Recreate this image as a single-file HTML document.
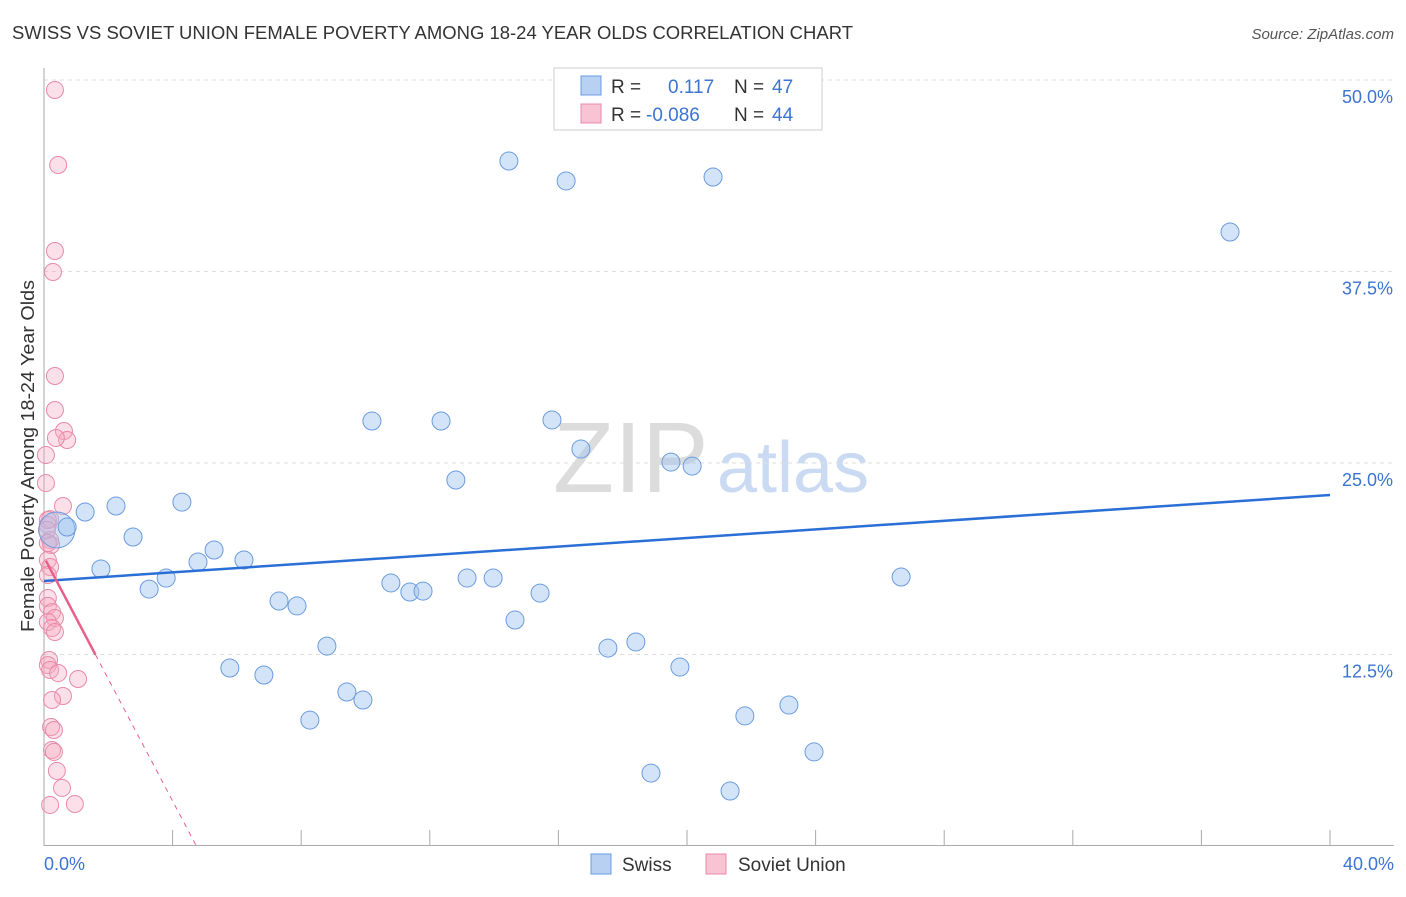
<!DOCTYPE html>
<html><head><meta charset="utf-8"><style>
body{margin:0;background:#fff;font-family:"Liberation Sans",sans-serif;}
svg text{font-family:"Liberation Sans",sans-serif;}
</style></head><body>
<svg id="c" width="1406" height="892" xmlns="http://www.w3.org/2000/svg">
<text x="12" y="39" font-size="18" fill="#333" textLength="841" lengthAdjust="spacingAndGlyphs">SWISS VS SOVIET UNION FEMALE POVERTY AMONG 18-24 YEAR OLDS CORRELATION CHART</text>
<text x="1394" y="39" font-size="15" fill="#555" text-anchor="end" font-style="italic">Source: ZipAtlas.com</text>
<text x="553" y="492" font-size="100" fill="#dcdcdc" font-family="Liberation Serif">ZIP</text>
<text x="717" y="492" font-size="72" fill="#c9daf2">atlas</text>
<text transform="translate(34,456) rotate(-90)" font-size="18" fill="#333" text-anchor="middle" textLength="352" lengthAdjust="spacingAndGlyphs">Female Poverty Among 18-24 Year Olds</text>
<g id="grid"></g><g id="axes"></g><g id="pts"></g><g id="lines"></g>
<g>
<rect x="554" y="68" width="268" height="62" fill="#fff" stroke="#ccc"/>
<rect x="581" y="76" width="20" height="19" fill="#b8d1f3" stroke="#6a9be0"/>
<text x="611" y="93" font-size="19" fill="#333">R =</text><text x="668" y="93" font-size="19" fill="#3b74d1">0.117</text>
<text x="734" y="93" font-size="19" fill="#333">N =</text><text x="772" y="93" font-size="19" fill="#3b74d1">47</text>
<rect x="581" y="104" width="20" height="19" fill="#f8c4d4" stroke="#e88aa8"/>
<text x="611" y="121" font-size="19" fill="#333">R =</text><text x="646" y="121" font-size="19" fill="#3b74d1">-0.086</text>
<text x="734" y="121" font-size="19" fill="#333">N =</text><text x="772" y="121" font-size="19" fill="#3b74d1">44</text>
</g>
<g><rect x="591" y="854" width="20" height="20" fill="#b8d1f3" stroke="#6a9be0"/><text x="622" y="871" font-size="19" fill="#333">Swiss</text></g>
<g><rect x="706" y="854" width="20" height="20" fill="#f8c4d4" stroke="#e88aa8"/><text x="738" y="871" font-size="19" fill="#333">Soviet Union</text></g>
</svg>
<script>
const yTicks=[12.5,25,37.5,50];
const yTickLabels=["12.5%","25.0%","37.5%","50.0%"];
const xTickLabels=["0.0%","40.0%"];
const swissX=[0.40,0.72,1.28,2.24,1.77,2.77,3.27,3.80,4.29,4.79,5.29,5.78,6.22,6.84,7.31,7.87,8.27,8.80,9.42,9.92,10.20,10.79,11.38,11.79,12.35,12.81,13.16,13.97,14.46,14.65,15.43,15.80,16.24,16.70,17.54,18.41,18.88,19.50,19.78,20.16,20.81,21.34,21.80,23.17,23.95,26.66,36.89];
const swissY=[20.63,20.82,21.80,22.19,18.08,20.17,16.77,17.49,22.45,18.54,19.32,11.62,18.67,11.16,15.99,15.67,8.22,13.05,10.05,9.53,27.74,17.17,16.58,16.64,27.74,23.89,17.49,17.49,44.71,14.75,16.51,27.81,43.41,25.91,12.92,13.32,4.76,25.06,11.68,24.80,43.67,3.59,8.49,9.20,6.14,17.56,40.08];
const sovX=[0.34,0.44,0.34,0.28,0.34,0.34,0.62,0.72,0.37,0.06,0.06,0.59,0.19,0.12,0.19,0.22,0.12,0.19,0.12,0.12,0.12,0.25,0.34,0.12,0.25,0.34,0.16,0.12,0.19,0.44,1.06,0.59,0.25,0.22,0.31,0.25,0.31,0.40,0.56,0.96,0.19,0.12,0.09,0.12];
const sovY=[49.35,44.45,38.84,37.47,30.68,28.46,27.09,26.50,26.63,25.52,23.69,22.19,21.34,20.95,19.97,19.65,18.67,18.21,17.69,16.19,15.67,15.27,14.88,14.62,14.23,13.97,12.14,11.81,11.49,11.29,10.90,9.79,9.53,7.77,7.57,6.27,6.14,4.90,3.79,2.74,2.68,21.28,20.63,19.78];
const swissTrend=[17.30,22.91];
const sovTrend={intercept:18.86,slope:-3.98,solidEnd:1.6,dashEnd:4.74};
const NS="http://www.w3.org/2000/svg";
const X=v=>44+v/40*1286, Y=v=>846-v/50*766;
function mk(t,a,p){const e=document.createElementNS(NS,t);for(const k in a)e.setAttribute(k,a[k]);p.appendChild(e);return e;}
const grid=document.getElementById('grid'),axes=document.getElementById('axes'),pts=document.getElementById('pts'),lines=document.getElementById('lines');
yTicks.forEach((t,i)=>{
 const l=mk('line',{x1:44,x2:1394,y1:Y(t),y2:Y(t),stroke:'#ddd','stroke-dasharray':'4,4'},grid);
 
 
 const tx=mk('text',{x:1393,y:Y(t)+23,'font-size':18,fill:'#3b74d1','text-anchor':'end'},grid);tx.textContent=yTickLabels[i];
 
 
});
mk('line',{x1:44,x2:44,y1:68,y2:846,stroke:'#aaa'},axes);
mk('line',{x1:44,x2:1394,y1:845.5,y2:845.5,stroke:'#aaa'},axes);
for(let i=0;i<=10;i++){mk('line',{x1:X(i*4),x2:X(i*4),y1:830,y2:846,stroke:'#aaa'},axes);}
let t0=mk('text',{x:44,y:870,'font-size':18,fill:'#3b74d1'},axes);t0.textContent=xTickLabels[0];


let t1=mk('text',{x:1394,y:870,'font-size':18,fill:'#3b74d1','text-anchor':'end'},axes);t1.textContent=xTickLabels[1];


sovX.forEach((v,i)=>{const c=mk('circle',{cx:X(v),cy:Y(sovY[i]),r:8.5,fill:'rgba(245,165,192,0.35)',stroke:'#e88aa8','stroke-width':1},pts);
 
 });
swissX.forEach((v,i)=>{const c=mk('circle',{cx:X(v),cy:Y(swissY[i]),r:i==0?18:9,fill:'rgba(160,195,240,0.45)',stroke:'#6a9be0','stroke-width':1},pts);
 
 });
const bl=mk('line',{x1:X(0),y1:Y(swissTrend[0]),x2:X(40),y2:Y(swissTrend[1]),stroke:'#2a6fd6','stroke-width':2.5},lines);


const f=x=>sovTrend.intercept+sovTrend.slope*x;
const ps=mk('line',{x1:X(0.06),y1:Y(f(0.06)),x2:X(sovTrend.solidEnd),y2:Y(f(sovTrend.solidEnd)),stroke:'#e8608a','stroke-width':2.5},lines);


const pd=mk('line',{x1:X(sovTrend.solidEnd),y1:Y(f(sovTrend.solidEnd)),x2:X(sovTrend.dashEnd),y2:Y(f(sovTrend.dashEnd)),stroke:'#e8608a','stroke-width':1,'stroke-dasharray':'5,5'},lines);


</script>
</body></html>
